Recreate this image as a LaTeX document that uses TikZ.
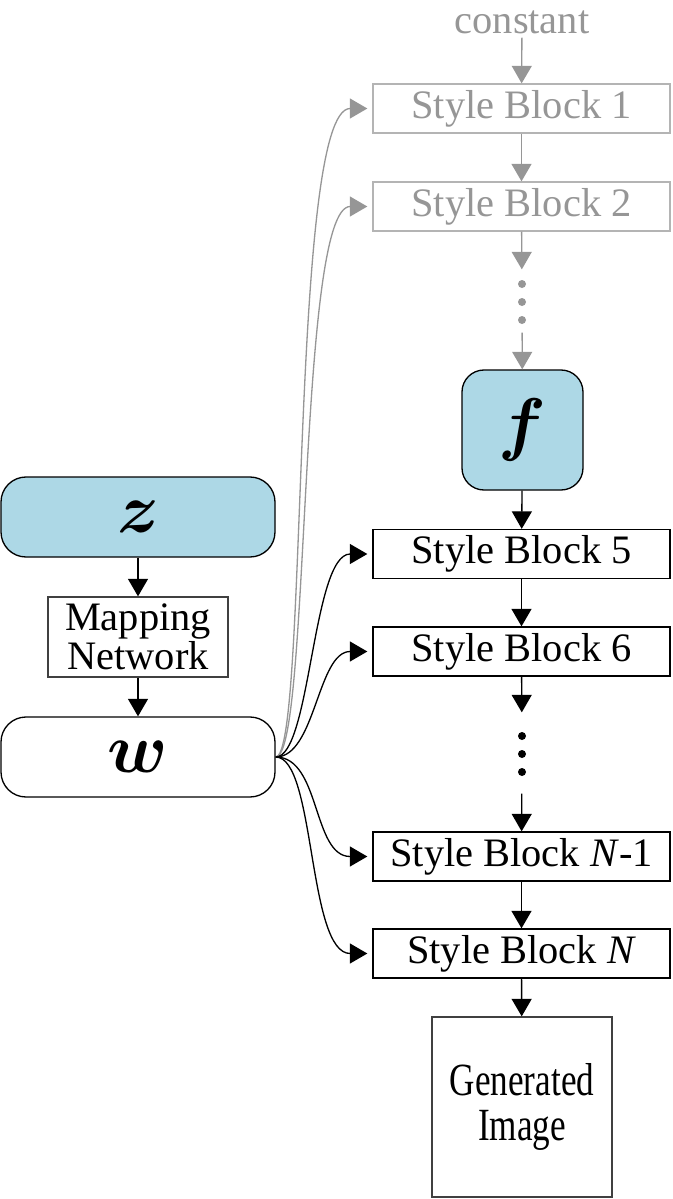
\documentclass[tikz,border=0pt]{standalone}
\usepackage{amsmath}
\usepackage{fontspec}
\setmainfont{Liberation Serif}
\usetikzlibrary{arrows.meta,positioning,calc}
\definecolor{cblue}{RGB}{173,216,230}
\definecolor{cgray}{RGB}{150,150,150}
\definecolor{cgrayline}{RGB}{180,180,180}
\newcommand{\bigvar}[1]{\scalebox{4}{$\boldsymbol{#1}$}}
\newcommand{\narrow}[1]{\scalebox{0.8}[1.05]{#1}}

\begin{document}
\begin{tikzpicture}[>={Triangle[length=0.35cm,width=0.4cm]},line width=0.75pt,
  every node/.style={font=\fontsize{23}{22}\selectfont},
  block/.style={draw,minimum width=5.94cm,minimum height=0.98cm,inner sep=0pt},
  faded/.style={draw=cgrayline,text=cgray},
  latent/.style={draw,rounded corners=#1,font=\normalsize,inner sep=0pt},
  square/.style={draw=black!75,minimum width=3.6cm,minimum height=#1,align=center,inner sep=0pt},
  gap/.style={minimum height=#1,minimum width=0.3cm,inner sep=0pt}]
\useasboundingbox (0,0) rectangle (13.46,-23.98);

% ===== synthesis column =====
\node[anchor=base,text=cgray,inner sep=2pt] (const) at (10.44,-0.66) {constant};
\node[block,faded] (sbone) at (10.43,-2.17) {Style Block 1};
\node[block,faded] (sbtwo) at (10.43,-4.13) {Style Block 2};
\node[gap=1.24cm] (dotsA) at (10.44,-6.02) {};
\node[latent=0.44cm,fill=cblue,minimum width=2.42cm,minimum height=2.4cm] (f) at (10.45,-8.6) {\bigvar{f}};
\node[block] (sbfive) at (10.43,-11.08) {Style Block 5};
\node[block] (sbsix) at (10.43,-13.03) {Style Block 6};
\node[gap=1.6cm] (dotsB) at (10.44,-15.06) {};
\node[block] (sbnm) at (10.43,-17.13) {Style Block \textit{N}-1};
\node[block] (sbn) at (10.43,-19.07) {Style Block \textit{N}};
\node[square=3.6cm,font=\fontsize{25}{25.5}\selectfont] (gen) at (10.44,-22.14) {\narrow{Generated}\\\narrow{Image}};

\foreach \d in {0.34,-0.02,-0.38}{\fill[cgray] ($(dotsA)+(0,\d)$) circle (0.08);}
\foreach \d in {0.34,-0.02,-0.38}{\fill ($(dotsB)+(0,\d)$) circle (0.08);}

\foreach \a/\b in {const/sbone,sbone/sbtwo,sbtwo/dotsA,dotsA/f}{\draw[->,cgray] (\a) -- (\b);}
\foreach \a/\b in {f/sbfive,sbfive/sbsix,sbsix/dotsB,dotsB/sbnm,sbnm/sbn,sbn/gen}{\draw[->] (\a) -- (\b);}

% ===== mapping column =====
\node[latent=0.5cm,fill=cblue,minimum width=5.48cm,minimum height=1.6cm] (z) at (2.76,-10.34) {\bigvar{z}};
\node[square=1.6cm] (map) at (2.76,-12.74) {Mapping\\Network};
\node[latent=0.5cm,fill=white,minimum width=5.48cm,minimum height=1.6cm] (w) at (2.76,-15.14) {\bigvar{w}};
\draw[->] (z) -- (map);
\draw[->] (map) -- (w);

% style inputs from w
\draw[->,cgray,shorten >=0.1cm] (w.east) .. controls +(0.66,0) and +(-1.66,0) .. (sbone.west);
\draw[->,cgray,shorten >=0.1cm] (w.east) .. controls +(0.7,0) and +(-1.5,0) .. (sbtwo.west);
\draw[->,shorten >=0.1cm] (w.east) .. controls +(0.7,0) and +(-1.2,0) .. (sbfive.west);
\draw[->,shorten >=0.1cm] (w.east) .. controls +(0.8,0) and +(-1.1,0) .. (sbsix.west);
\draw[->,shorten >=0.1cm] (w.east) .. controls +(0.9,0) and +(-1.2,0) .. (sbnm.west);
\draw[->,shorten >=0.1cm] (w.east) .. controls +(0.8,0) and +(-1.3,0) .. (sbn.west);
\end{tikzpicture}
\end{document}
